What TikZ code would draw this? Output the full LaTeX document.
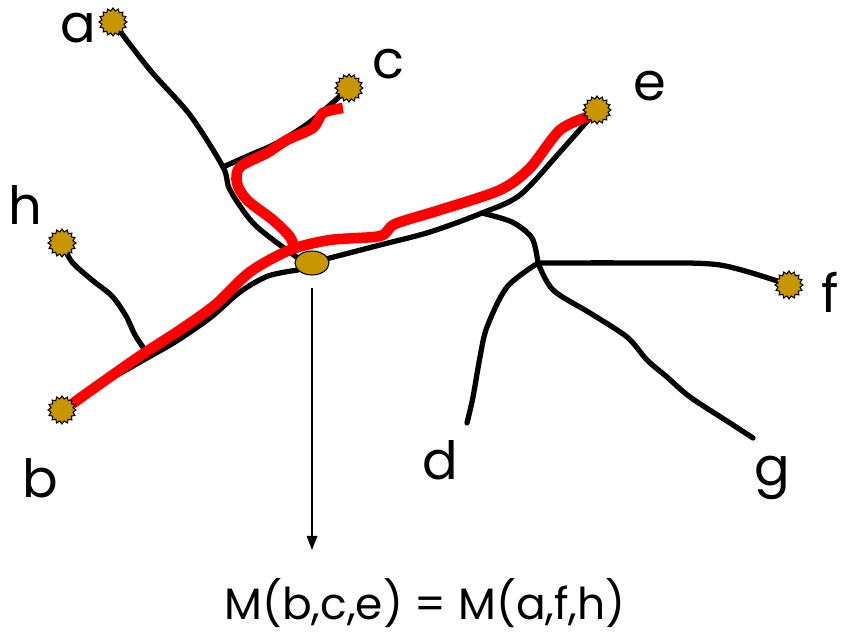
\documentclass[tikz,border=0pt]{standalone}
\usepackage{fontspec}
\setmainfont{Poppins}
\usetikzlibrary{shapes.geometric,arrows.meta}
\definecolor{gold}{RGB}{200,150,0}
\begin{document}
\begin{tikzpicture}[x=0.02cm,y=-0.02cm,
  leaf/.style={star,star points=16,star point ratio=1.25,minimum size=0.56cm,inner sep=0pt,fill=gold,draw=black,line width=0.6pt},
  branch/.style={line width=3pt,line cap=round,line join=round,black},
  redpath/.style={line width=6pt,line join=round,red},
  lbl/.style={font=\fontsize{30}{30}\selectfont,inner sep=0pt}]
\useasboundingbox (0,0) rectangle (843,636);
% positions
\coordinate (pa) at (113,22);
\coordinate (pc) at (349,88);
\coordinate (pe) at (597,110);
\coordinate (ph) at (62,243);
\coordinate (pb) at (62,410);
\coordinate (pf) at (789,285);
\coordinate (d) at (467,423);
\coordinate (g) at (753,438);
\coordinate (j1) at (223,167);
\coordinate (j2) at (482,213);
\coordinate (j3) at (538,263);
\coordinate (jh) at (145,350);
% black tree
\draw[branch] plot[smooth,tension=0.5] coordinates {(pa) (150,70) (190,115) (223,167) (230,190) (255,225) (298,258)};
\draw[branch] plot[smooth,tension=0.5] coordinates {(j1) (250,155) (277,143) (310,122) (pc)};
\draw[branch] plot[smooth,tension=0.5] coordinates {(pb) (100,385) (140,362) (175,342) (210,318) (240,292) (268,276) (298,270)};
\draw[branch] plot[smooth,tension=0.5] coordinates {(326,259) (380,245) (430,232) (j2) (520,195) (560,152) (pe)};
\draw[branch] plot[smooth,tension=0.5] coordinates {(ph) (72,262) (92,280) (112,296) (126,316) (135,335) (jh)};
\draw[branch] plot[smooth,tension=0.5] coordinates {(j2) (512,222) (532,238) (j3)};
\draw[branch] plot[smooth,tension=0.5] coordinates {(j3) (640,263) (720,265) (pf)};
\draw[branch] plot[smooth,tension=0.5] coordinates {(j3) (507,287) (487,327) (480,357) (473,397) (d)};
\draw[branch] plot[smooth,tension=0.5] coordinates {(j3) (553,290) (590,313) (627,337) (647,360) (667,377) (690,397) (730,423) (g)};
% red paths
\draw[redpath] plot[smooth,tension=0.5] coordinates {(72,404) (100,384) (140,356) (180,330) (215,305) (250,272) (290,250) (330,240) (380,236) (395,224) (440,210) (500,190) (530,168) (560,130) (590,116)};
\draw[redpath] plot[smooth,tension=0.5] coordinates {(343,108) (323,113) (313,128) (287,140) (267,153) (240,167) (237,183) (247,200) (273,220) (290,237) (295,250)};
% leaves on top
\node[leaf] (a) at (pa) {};
\node[leaf] (c) at (pc) {};
\node[leaf] (e) at (pe) {};
\node[leaf] (h) at (ph) {};
\node[leaf] (b) at (pb) {};
\node[leaf] (f) at (pf) {};
% center
\node[ellipse,minimum width=0.68cm,minimum height=0.48cm,inner sep=0pt,fill=gold,draw=black,line width=0.6pt] (m) at (312,263) {};
\coordinate (arrEnd) at (312,550);
\draw[line width=0.8pt,-{Triangle[length=8pt,width=6pt]}] ([yshift=-0.25cm]m.south) -- (arrEnd);
% labels
\node[lbl] (la) at (78,28) {a};
\node[lbl] (lc) at (388,64) {c};
\node[lbl] (le) at (650,86) {e};
\node[lbl] (lh) at (25,205) {h};
\node[lbl] (lb) at (40,478) {b};
\node[lbl] (lf) at (830,292) {f};
\node[lbl] (ld) at (440,460) {d};
\node[lbl] (lg) at (772,478) {g};
\node[font=\fontsize{25}{25}\selectfont,inner sep=0pt] (eq) at (425,603) {M(b,c,e) = M(a,f,h)};
\end{tikzpicture}
\end{document}
